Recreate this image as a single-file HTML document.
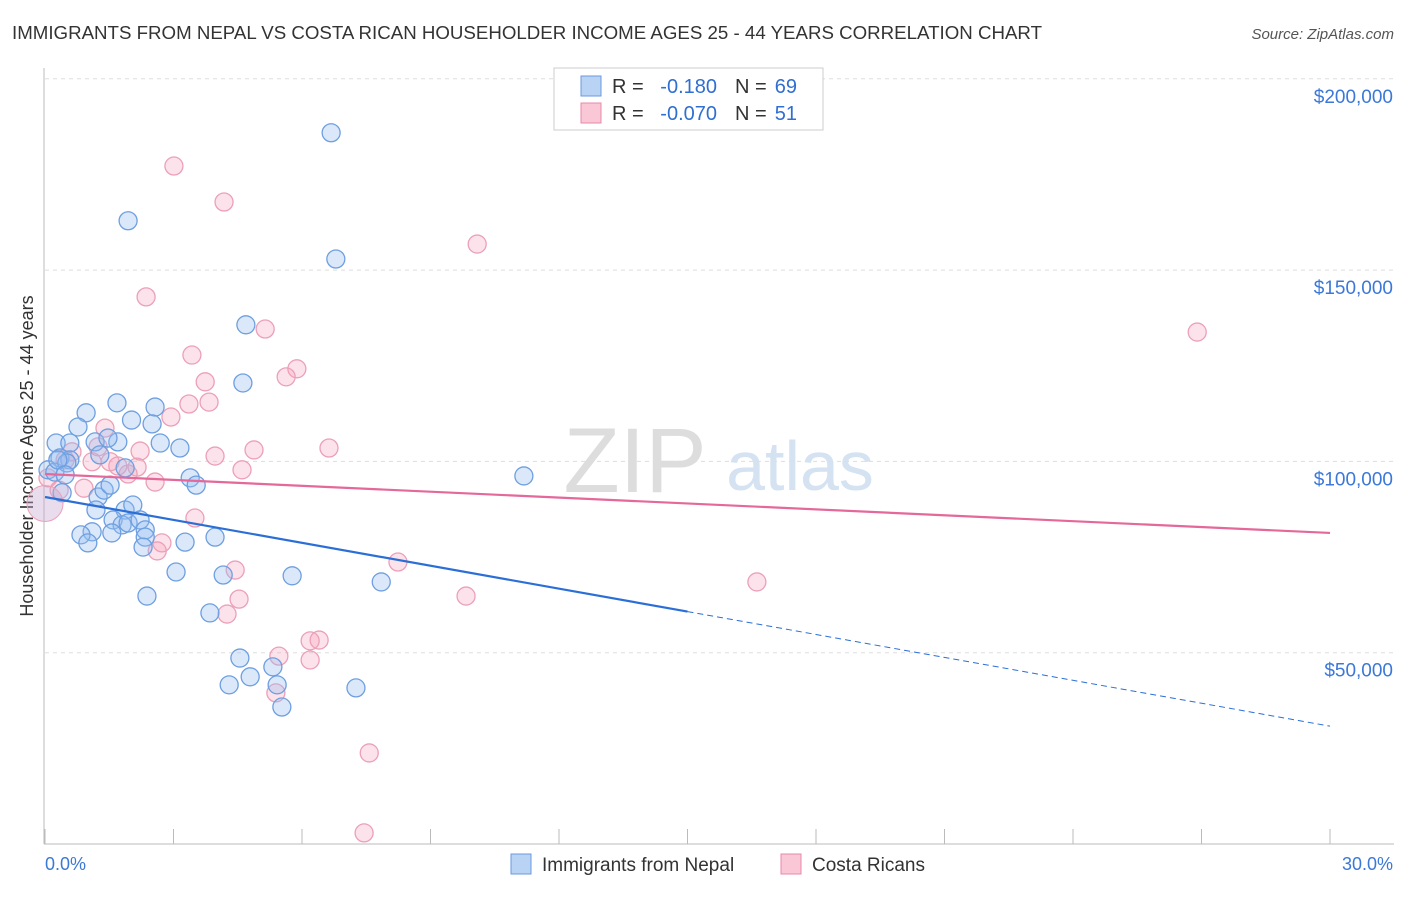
<!DOCTYPE html>
<html><head><meta charset="utf-8"><style>
body{margin:0;background:#fff;font-family:"Liberation Sans",sans-serif}
svg text{font-family:"Liberation Sans",sans-serif}
</style></head><body>
<svg id="c" width="1406" height="892">
<text x="12" y="39" font-size="18" fill="#333" textLength="1030" lengthAdjust="spacingAndGlyphs">IMMIGRANTS FROM NEPAL VS COSTA RICAN HOUSEHOLDER INCOME AGES 25 - 44 YEARS CORRELATION CHART</text>
<text x="1394" y="39" font-size="15" fill="#555" font-style="italic" text-anchor="end">Source: ZipAtlas.com</text>
<text transform="translate(33,456) rotate(-90)" font-size="18" fill="#333" text-anchor="middle">Householder Income Ages 25 - 44 years</text>
<g id="wm"><text x="635" y="492" font-size="92" fill="#ddd" font-family="Liberation Serif" text-anchor="middle">ZIP</text><text x="800" y="490" font-size="70" fill="#d4e2f2" text-anchor="middle">atlas</text></g>
<g id="grid"></g><g id="axes"></g><g id="pts"></g><g id="trend"></g>
<g>
<rect x="554" y="68" width="269" height="62" fill="#fff" stroke="#ccc"/>
<rect x="581" y="76" width="20" height="20" fill="#b9d3f5" stroke="#6a9ae0"/>
<rect x="581" y="103" width="20" height="20" fill="#f9c7d5" stroke="#e88aa8"/>
<text x="612" y="93" font-size="20" fill="#333">R =</text>
<text x="717" y="93" font-size="20" fill="#2f6fd1" text-anchor="end">-0.180</text>
<text x="735" y="93" font-size="20" fill="#333">N =</text>
<text x="797" y="93" font-size="20" fill="#2f6fd1" text-anchor="end">69</text>
<text x="612" y="120" font-size="20" fill="#333">R =</text>
<text x="717" y="120" font-size="20" fill="#2f6fd1" text-anchor="end">-0.070</text>
<text x="735" y="120" font-size="20" fill="#333">N =</text>
<text x="797" y="120" font-size="20" fill="#2f6fd1" text-anchor="end">51</text>
</g>
<g>
<rect x="511" y="854" width="20" height="20" fill="#b9d3f5" stroke="#6a9ae0"/>
<text x="542" y="871" font-size="19" fill="#333">Immigrants from Nepal</text>
<rect x="781" y="854" width="20" height="20" fill="#f9c7d5" stroke="#e88aa8"/>
<text x="812" y="871" font-size="19" fill="#333">Costa Ricans</text>
</g>
</svg>
<script>
const yTicks=[50000,100000,150000,200000];
const yTickLabels=["$50,000","$100,000","$150,000","$200,000"];
const xTickLabels=["0.0%","30.0%"];
const nepalX=[6.68,1.94,6.79,4.69,4.62,1.68,2.57,0.96,2.02,2.50,0.77,0.26,0.58,1.17,1.70,2.69,3.15,1.47,0.35,0.58,0.07,0.23,0.51,1.87,3.39,3.53,11.18,0.40,1.24,1.38,1.52,1.87,2.05,1.19,1.59,1.80,1.94,2.22,2.34,1.56,1.10,0.84,1.00,2.34,3.27,3.97,2.29,3.06,4.16,5.77,7.85,2.38,3.85,4.55,5.32,4.79,4.30,5.42,7.26,5.53,0.30,1.28,0.47];
const nepalY=[185.9,162.9,152.9,135.7,120.5,115.3,114.2,112.7,110.8,109.8,109.0,104.8,104.8,105.1,105.1,104.8,103.5,106.1,100.9,100.4,97.8,97.2,99.6,98.3,95.7,93.8,96.2,91.8,90.7,92.5,93.8,87.3,88.6,87.3,84.7,83.4,83.9,84.7,82.1,81.3,81.6,80.8,78.7,80.2,78.9,80.2,77.6,71.1,70.3,70.1,68.5,64.8,60.4,48.6,46.3,43.7,41.6,41.6,40.8,35.8,100.4,101.7,96.5];
const costaX=[3.01,4.18,10.09,2.36,5.14,26.9,3.43,5.88,5.63,3.74,3.83,3.36,2.94,1.40,6.63,4.88,2.22,1.24,0.63,3.97,1.10,1.70,2.15,1.94,4.60,0.07,2.57,0.33,0.91,3.50,2.73,2.62,8.24,4.44,16.62,9.83,4.53,4.25,6.40,6.19,5.46,6.19,5.39,7.57,7.45,1.52,0.47];
const costaY=[177.2,167.8,156.8,143.0,134.6,133.8,127.8,124.2,122.1,120.8,115.5,115.0,111.6,108.7,103.5,103.0,102.7,103.8,102.5,101.4,99.9,98.8,98.5,96.7,97.8,95.7,94.6,92.5,93.0,85.2,78.7,76.6,73.7,71.6,68.5,64.8,64.0,60.1,53.3,53.1,49.1,48.1,39.5,23.8,2.9,99.9,100.4];
const nepalTrend=[90.7,30.8];
const costaTrend=[96.7,81.3];
const NS="http://www.w3.org/2000/svg";
const X=v=>45+v/30*1285, Y=v=>844-v/50000*191.3;
function mk(t,a,p){const e=document.createElementNS(NS,t);for(const k in a)e.setAttribute(k,a[k]);p.appendChild(e);return e;}
const grid=document.getElementById('grid'),axes=document.getElementById('axes'),pts=document.getElementById('pts'),tr=document.getElementById('trend');
yTicks.forEach((v,i)=>{
 const l=mk('line',{x1:45,x2:1394,y1:Y(v),y2:Y(v),stroke:'#ddd','stroke-dasharray':'4,4'},grid);
 
 
 const t=mk('text',{x:1393,y:Y(v)+24,'font-size':19,fill:'#3b78d8','text-anchor':'end'},axes);
 t.textContent=yTickLabels[i];
 
 
});
mk('line',{x1:44,x2:44,y1:68,y2:844,stroke:'#bbb'},axes);
mk('line',{x1:44,x2:1394,y1:844,y2:844,stroke:'#bbb'},axes);
for(let i=0;i<=10;i++){mk('line',{x1:X(i*3),x2:X(i*3),y1:829,y2:844,stroke:'#bbb'},axes);}
[[0,'start',45],[30,'end',1393]].forEach((d,i)=>{const t=mk('text',{x:d[2],y:870,'font-size':18,fill:'#3b78d8','text-anchor':d[1]},axes);t.textContent=xTickLabels[i];
 
 });
costaX.forEach((x,i)=>{const c=mk('circle',{cx:X(x),cy:Y(costaY[i]*1000),r:9,fill:'rgba(244,160,185,0.3)',stroke:'#eca0b8','stroke-width':1.3},pts);
 
 });
nepalX.forEach((x,i)=>{const c=mk('circle',{cx:X(x),cy:Y(nepalY[i]*1000),r:9,fill:'rgba(150,190,240,0.35)',stroke:'#6e9fe0','stroke-width':1.3},pts);
 
 });
const big1=mk('circle',{cx:X(0),cy:Y(89000),r:18,fill:'rgba(200,170,210,0.4)',stroke:'#eca0b8'},pts);


const ny=x=>nepalTrend[0]+(nepalTrend[1]-nepalTrend[0])*x/30;
let l=mk('line',{x1:X(0),y1:Y(ny(0)*1000),x2:X(15),y2:Y(ny(15)*1000),stroke:'#2b6fd6','stroke-width':2.2},tr);


l=mk('line',{x1:X(15),y1:Y(ny(15)*1000),x2:X(30),y2:Y(ny(30)*1000),stroke:'#2b6fd6','stroke-width':1,'stroke-dasharray':'6,4'},tr);


l=mk('line',{x1:X(0),y1:Y(costaTrend[0]*1000),x2:X(30),y2:Y(costaTrend[1]*1000),stroke:'#e4689a','stroke-width':2.2},tr);


</script>
</body></html>
